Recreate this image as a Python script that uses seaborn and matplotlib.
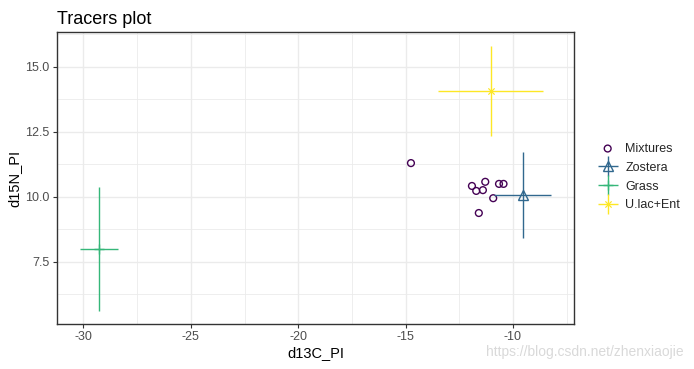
import numpy as np
import pandas as pd
import matplotlib
matplotlib.use("Agg")
import matplotlib.pyplot as plt
import seaborn as sns
from matplotlib.ticker import MultipleLocator, FormatStrFormatter
from matplotlib.container import ErrorbarContainer
from matplotlib.legend_handler import HandlerErrorbar

# mixtures (consumers)
mix_d13C = [-14.75, -11.91, -11.29, -11.71, -11.40, -10.65, -10.44, -10.92, -11.59]
mix_d15N = [11.30, 10.42, 10.58, 10.23, 10.26, 10.50, 10.50, 9.95, 9.38]

# sources: mean +/- sd
sources = ["Zostera", "Grass", "U.lac+Ent"]
src_d13C_mean = [-9.55, -29.27, -11.03]
src_d13C_sd = [1.31, 0.88, 2.44]
src_d15N_mean = [10.07, 7.99, 14.08]
src_d15N_sd = [1.64, 2.38, 1.74]

colors = {"Mixtures": "#440154", "Zostera": "#31688E", "Grass": "#35B779", "U.lac+Ent": "#FDE725"}
markers = {"Zostera": "^", "Grass": "+", "U.lac+Ent": (8, 2, 0)}
msizes = {"Zostera": 7, "Grass": 7, "U.lac+Ent": 6}
mews = {"Zostera": 1.0, "Grass": 1.0, "U.lac+Ent": 0.6}

mix = pd.DataFrame({"d13C_PI": mix_d13C, "d15N_PI": mix_d15N})
src = pd.DataFrame({"source": sources, "x": src_d13C_mean, "xsd": src_d13C_sd,
                    "y": src_d15N_mean, "ysd": src_d15N_sd})

sns.set_theme(style="whitegrid")
plt.rcParams['font.family'] = ['Liberation Sans', 'DejaVu Sans']

fig = plt.figure(figsize=(6.94, 3.69), dpi=100)
ax = fig.add_axes([0.0817, 0.1211, 0.8275 - 0.0817, 0.9125 - 0.1211])

sns.scatterplot(data=mix, x="d13C_PI", y="d15N_PI", ax=ax, marker="o", s=24,
                facecolors="none", edgecolor=colors["Mixtures"], linewidth=1.0, zorder=3)
mix_handle = ax.collections[0]

handles = [mix_handle]
for _, r in src.iterrows():
    s = r["source"]
    eb = ax.errorbar(r["x"], r["y"], xerr=r["xsd"], yerr=r["ysd"], color=colors[s],
                     linestyle="none", marker=markers[s], markersize=msizes[s], mfc="none",
                     mec=colors[s], mew=mews[s], elinewidth=1.0, capsize=0, zorder=4)
    handles.append(eb)

# ggplot-like 5% expansion
xlo = min(np.array(src_d13C_mean) - np.array(src_d13C_sd))
xhi = max(np.array(src_d13C_mean) + np.array(src_d13C_sd))
ylo = min(np.array(src_d15N_mean) - np.array(src_d15N_sd))
yhi = max(np.array(src_d15N_mean) + np.array(src_d15N_sd))
ax.set_xlim(xlo - 0.05 * (xhi - xlo), xhi + 0.05 * (xhi - xlo))
ax.set_ylim(ylo - 0.05 * (yhi - ylo), yhi + 0.05 * (yhi - ylo))

ax.xaxis.set_major_locator(MultipleLocator(5))
ax.xaxis.set_minor_locator(MultipleLocator(2.5))
ax.yaxis.set_major_locator(MultipleLocator(2.5))
ax.yaxis.set_minor_locator(MultipleLocator(1.25))
ax.yaxis.set_major_formatter(FormatStrFormatter("%.1f"))
ax.xaxis.set_major_formatter(FormatStrFormatter("%d"))

ax.grid(which="major", color="#EBEBEB", linewidth=1.0)
ax.grid(which="minor", color="#EBEBEB", linewidth=0.6)
ax.set_axisbelow(True)
for sp in ax.spines.values():
    sp.set_color("#333333")
    sp.set_linewidth(1.0)
ax.tick_params(which="major", length=3, width=0.8, color="#333333", labelcolor="#4D4D4D",
               labelsize=9, pad=2, bottom=True, left=True)
ax.tick_params(which="minor", length=0)

ax.set_xlabel("d13C_PI", fontsize=10.5, color="black", labelpad=2)
ax.set_ylabel("d15N_PI", fontsize=10.5, color="black", labelpad=3)
ax.set_title("Tracers plot", loc="left", fontsize=13, color="black", pad=6)

fig.legend(handles, ["Mixtures"] + sources, loc="center left", bbox_to_anchor=(0.845, 0.52),
           frameon=False, fontsize=9, handlelength=1.6, handletextpad=0.6, labelspacing=0.55,
           handler_map={ErrorbarContainer: HandlerErrorbar(xerr_size=0.8)})

fig.text(0.985, 0.045, "https://blog.csdn.net/zhenxiaojie", ha="right", va="center",
         fontsize=10, color="#D9D9D9")

fig.savefig("out.png", dpi=100)
